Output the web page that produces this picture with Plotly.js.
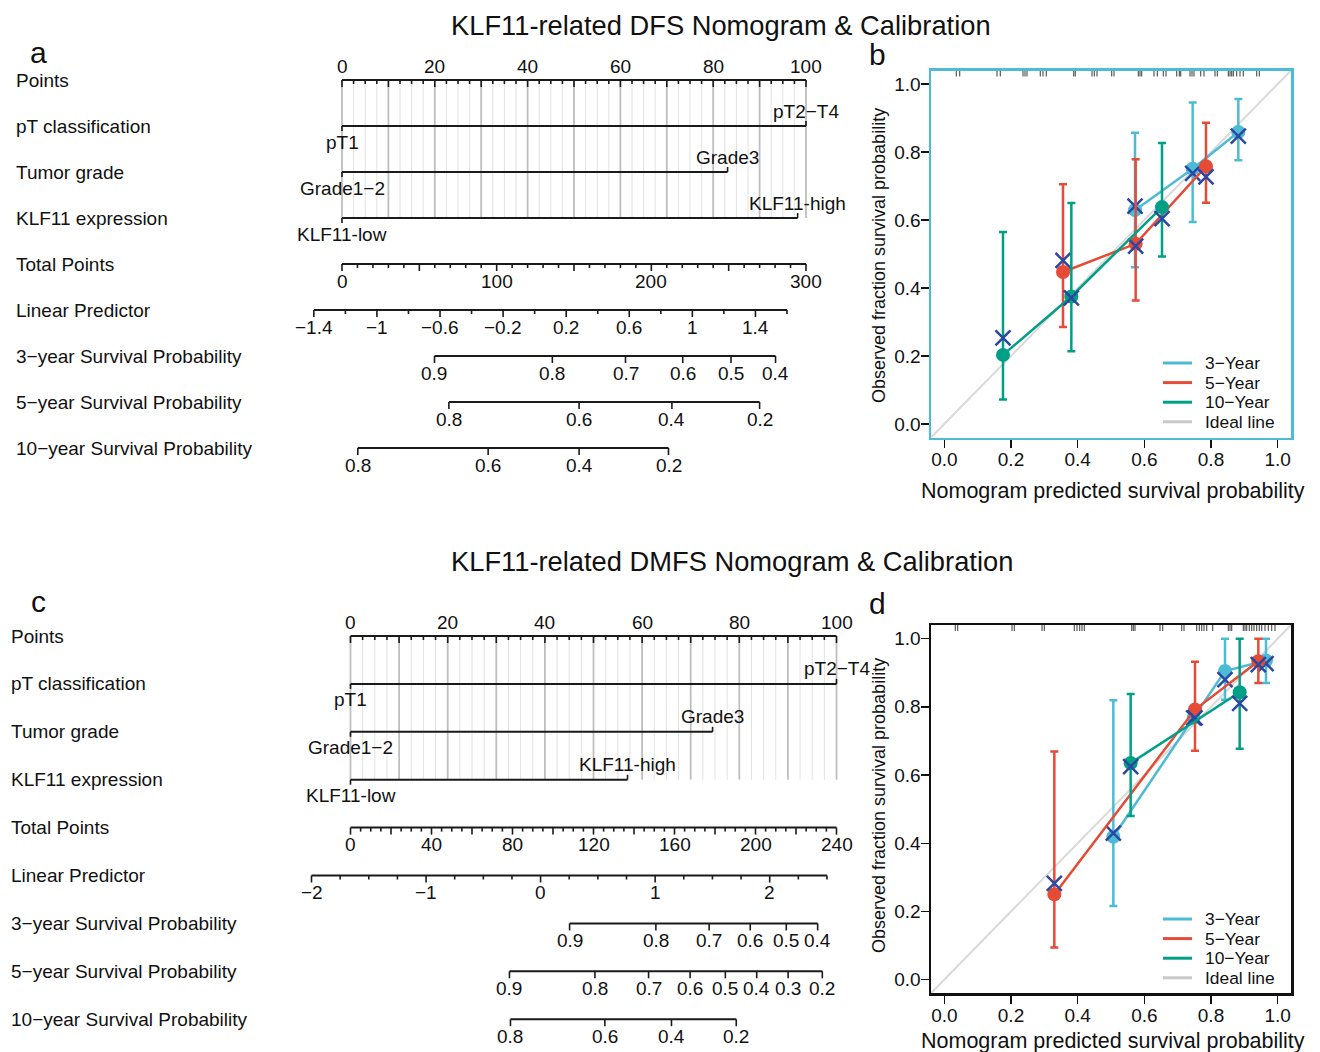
<!DOCTYPE html>
<html><head><meta charset="utf-8">
<script src="https://cdn.plot.ly/plotly-3.0.1.min.js"></script>
<style>html,body{margin:0;padding:0;background:#fff}#chart{width:1320px;height:1052px}</style>
</head><body><div id="chart"></div>
<script>
const W = 1320, H = 1052;
const FONT = '"Liberation Sans", Arial, Helvetica, sans-serif';

// ---------------- DATA: DFS nomogram (a) ----------------
const dfsVariables   = ['pT classification', 'Tumor grade', 'KLF11 expression'];
const dfsLowLevels   = ['pT1', 'Grade1\u22122', 'KLF11-low'];
const dfsHighLevels  = ['pT2\u2212T4', 'Grade3', 'KLF11-high'];
const dfsHighPoints  = [100, 83.1, 98.2];
const dfsPointLabels = [0, 20, 40, 60, 80, 100];
const dfsTotalLabels = [0, 100, 200, 300];
const dfsLpLabels    = [-1.4, -1, -0.6, -0.2, 0.2, 0.6, 1, 1.4];
const dfs3yProb  = [0.9, 0.8, 0.7, 0.6, 0.5, 0.4];
const dfs3yTotal = [59.8, 136.0, 183.3, 220.3, 251.5, 280.3];
const dfs5yProb  = [0.8, 0.6, 0.4, 0.2];
const dfs5yTotal = [69.1, 153.3, 213.3, 270.0];
const dfs10yProb  = [0.8, 0.6, 0.4, 0.2];
const dfs10yTotal = [10.2, 94.5, 153.3, 211.1];

// ---------------- DATA: DMFS nomogram (c) ----------------
const dmfsVariables   = ['pT classification', 'Tumor grade', 'KLF11 expression'];
const dmfsLowLevels   = ['pT1', 'Grade1\u22122', 'KLF11-low'];
const dmfsHighLevels  = ['pT2\u2212T4', 'Grade3', 'KLF11-high'];
const dmfsHighPoints  = [100, 74.5, 57.0];
const dmfsPointLabels = [0, 20, 40, 60, 80, 100];
const dmfsTotalLabels = [0, 40, 80, 120, 160, 200, 240];
const dmfsLpLabels    = [-2, -1, 0, 1, 2];
const dmfs3yProb  = [0.9, 0.8, 0.7, 0.6, 0.5, 0.4];
const dmfs3yTotal = [108.2, 150.8, 177.1, 197.4, 215.2, 230.7];
const dmfs5yProb  = [0.9, 0.8, 0.7, 0.6, 0.5, 0.4, 0.3, 0.2];
const dmfs5yTotal = [78.5, 120.7, 147.2, 167.7, 185.1, 200.6, 216.1, 233.0];
const dmfs10yProb  = [0.8, 0.6, 0.4, 0.2];
const dmfs10yTotal = [79.0, 125.6, 158.5, 190.5];

// ---------------- DATA: DFS calibration (b) ----------------
const dfsCal3yPred = [0.572, 0.745, 0.882];
const dfsCal3yObs  = [0.629, 0.751, 0.859];
const dfsCal3yLow  = [0.461, 0.594, 0.776];
const dfsCal3yHigh = [0.857, 0.946, 0.956];
const dfsCal3yCorr = [0.641, 0.737, 0.847];
const dfsCal5yPred = [0.356, 0.574, 0.785];
const dfsCal5yObs  = [0.447, 0.530, 0.758];
const dfsCal5yLow  = [0.285, 0.363, 0.651];
const dfsCal5yHigh = [0.705, 0.779, 0.886];
const dfsCal5yCorr = [0.481, 0.523, 0.727];
const dfsCal10yPred = [0.176, 0.381, 0.653];
const dfsCal10yObs  = [0.203, 0.375, 0.638];
const dfsCal10yLow  = [0.072, 0.214, 0.493];
const dfsCal10yHigh = [0.565, 0.650, 0.827];
const dfsCal10yCorr = [0.253, 0.371, 0.604];
const dfsRug = [0.036, 0.046, 0.158, 0.168, 0.236, 0.242, 0.248, 0.288, 0.296, 0.306, 0.388, 0.393,
  0.443, 0.450, 0.458, 0.502, 0.509, 0.582, 0.587, 0.592, 0.629, 0.639, 0.657, 0.665, 0.697, 0.705,
  0.709, 0.737, 0.743, 0.749, 0.769, 0.779, 0.812, 0.819, 0.852, 0.857, 0.862, 0.867, 0.877, 0.887,
  0.897, 0.937, 0.945];

// ---------------- DATA: DMFS calibration (d) ----------------
const dmfsCal3yPred = [0.507, 0.748, 0.842, 0.965];
const dmfsCal3yObs  = [0.419, 0.768, 0.905, 0.936];
const dmfsCal3yLow  = [0.216, null, 0.821, 0.870];
const dmfsCal3yHigh = [0.819, null, 1.000, 1.000];
const dmfsCal3yCorr = [0.430, 0.768, 0.880, 0.927];
const dmfsCal5yPred = [0.330, 0.752, 0.942];
const dmfsCal5yObs  = [0.250, 0.792, 0.934];
const dmfsCal5yLow  = [0.094, 0.671, 0.870];
const dmfsCal5yHigh = [0.669, 0.932, 1.000];
const dmfsCal5yCorr = [0.282, 0.768, 0.924];
const dmfsCal10yPred = [0.559, 0.886];
const dmfsCal10yObs  = [0.635, 0.843];
const dmfsCal10yLow  = [0.480, 0.677];
const dmfsCal10yHigh = [0.838, 1.000];
const dmfsCal10yCorr = [0.625, 0.810];
const dmfsRug = [0.033, 0.040, 0.203, 0.210, 0.293, 0.300, 0.390, 0.398, 0.406, 0.413, 0.420,
  0.562, 0.567, 0.572, 0.647, 0.655, 0.712, 0.719, 0.757, 0.765, 0.772, 0.779, 0.787, 0.805,
  0.852, 0.857, 0.862, 0.897, 0.902, 0.907, 0.915, 0.922, 0.929, 0.937, 0.945, 0.952, 0.962,
  0.972, 0.982, 0.992];

const seriesNames = ['3\u2212Year', '5\u2212Year', '10\u2212Year', 'Ideal line'];
const rowTail = ['Total Points', 'Linear Predictor', '3\u2212year Survival Probability',
                 '5\u2212year Survival Probability', '10\u2212year Survival Probability'];

// ---------------- STYLE ----------------
const C3 = '#4DBBD5', C5 = '#E64B35', C10 = '#00A087', CX = '#2B48A0', CIDEAL = '#D9D9D9';
const INK = '#1a1a1a';

const traces = [];
const annotations = [];
const shapes = [];

function fmt(v) { return v < 0 ? '\u2212' + String(Math.abs(v)) : String(v); }

function nomogram(cfg) {
  const xa = cfg.xa, ya = cfg.ya;
  const d = px => px / cfg.pxRow;
  const toPts = tp => tp * 100 / cfg.totalMax;
  const lpToPts = lp => toPts((lp - cfg.lpAtZero) / cfg.lpPerTotal);
  const axisL = {x: [], y: []}, tickL = {x: [], y: []}, gDark = {x: [], y: []}, gLight = {x: [], y: []};
  const seg = (o, x0, y0, x1, y1) => { o.x.push(x0, x1, null); o.y.push(y0, y1, null); };
  const label = (x, y, text, shift) => annotations.push({xref: xa, yref: ya, x, y, text, showarrow: false,
    yshift: shift, xanchor: 'center', yanchor: 'middle', font: {size: 19, family: FONT, color: '#111'}});
  const nVar = cfg.vars.length;

  // grid + points axis
  for (let k = 0; k <= 40; k++) {
    const t = k * 2.5;
    seg(k % 4 === 0 ? gDark : gLight, t, 0, t, nVar);
    seg(tickL, t, 0, t, d(k % 4 === 0 ? 7 : 4));
  }
  seg(axisL, 0, 0, 100, 0);
  cfg.pointLabels.forEach(v => label(v, 0, fmt(v), 14));

  // variables
  cfg.vars.forEach((name, i) => {
    const r = i + 1, hp = cfg.highPoints[i];
    seg(axisL, 0, r, hp, r);
    seg(tickL, 0, r, 0, r + d(5));
    seg(tickL, hp, r, hp, r - d(5));
    label(0, r, cfg.low[i], -16);
    label(hp, r, cfg.high[i], 15);
  });

  // total points
  const rT = nVar + 1;
  seg(axisL, 0, rT, toPts(cfg.totalMax), rT);
  for (let tp = 0; tp <= cfg.totalMax + 1e-9; tp += cfg.totalMinor) {
    const major = Math.abs(tp / cfg.totalMajor - Math.round(tp / cfg.totalMajor)) < 1e-6;
    seg(tickL, toPts(tp), rT, toPts(tp), rT + d(major ? 7 : 4));
  }
  cfg.totalLabels.forEach(v => label(toPts(v), rT, fmt(v), -17));

  // linear predictor
  const rL = nVar + 2;
  seg(axisL, lpToPts(cfg.lpMin), rL, lpToPts(cfg.lpMax), rL);
  const nLp = Math.round((cfg.lpMax - cfg.lpMin) / cfg.lpStep);
  for (let k = 0; k <= nLp; k++) {
    const lp = cfg.lpMin + k * cfg.lpStep;
    const lab = cfg.lpLabels.some(v => Math.abs(v - lp) < 1e-6);
    seg(tickL, lpToPts(lp), rL, lpToPts(lp), rL + d(lab ? 7 : 4));
  }
  cfg.lpLabels.forEach(v => label(lpToPts(v), rL, fmt(v), -17));

  // survival scales
  cfg.surv.forEach((s, j) => {
    const r = nVar + 3 + j;
    const xs = s.total.map(toPts);
    seg(axisL, Math.min(...xs), r, Math.max(...xs), r);
    xs.forEach((x, i) => { seg(tickL, x, r, x, r + d(7)); label(x, r, fmt(s.prob[i]), -17); });
  });

  // row names
  const rows = ['Points'].concat(cfg.vars, rowTail);
  rows.forEach((t, i) => annotations.push({xref: 'paper', yref: ya, x: cfg.labelX / W, y: i, text: t,
    showarrow: false, xanchor: 'left', yanchor: 'middle', font: {size: 19, family: FONT, color: '#111'}}));

  const base = {type: 'scatter', mode: 'lines', xaxis: xa, yaxis: ya, hoverinfo: 'skip', showlegend: false};
  traces.push(Object.assign({}, base, gLight, {line: {color: '#E2E2E2', width: 1}}));
  traces.push(Object.assign({}, base, gDark, {line: {color: '#BEBEBE', width: 1.8}}));
  traces.push(Object.assign({}, base, axisL, {line: {color: INK, width: 2}}));
  traces.push(Object.assign({}, base, tickL, {line: {color: INK, width: 1.6}}));
}

nomogram({xa: 'x', ya: 'y', pxRow: 46, vars: dfsVariables, low: dfsLowLevels, high: dfsHighLevels,
  highPoints: dfsHighPoints, pointLabels: dfsPointLabels, totalLabels: dfsTotalLabels, totalMax: 300,
  totalMinor: 10, totalMajor: 50, lpLabels: dfsLpLabels, lpMin: -1.4, lpMax: 1.6, lpStep: 0.2,
  lpAtZero: -1.2215, lpPerTotal: 0.009807, labelX: 14,
  surv: [{prob: dfs3yProb, total: dfs3yTotal}, {prob: dfs5yProb, total: dfs5yTotal}, {prob: dfs10yProb, total: dfs10yTotal}]});

nomogram({xa: 'x3', ya: 'y3', pxRow: 47.9, vars: dmfsVariables, low: dmfsLowLevels, high: dmfsHighLevels,
  highPoints: dmfsHighPoints, pointLabels: dmfsPointLabels, totalLabels: dmfsTotalLabels, totalMax: 240,
  totalMinor: 5, totalMajor: 20, lpLabels: dmfsLpLabels, lpMin: -2, lpMax: 2.5, lpStep: 0.25,
  lpAtZero: -1.6595, lpPerTotal: 0.017678, labelX: 9,
  surv: [{prob: dmfs3yProb, total: dmfs3yTotal}, {prob: dmfs5yProb, total: dmfs5yTotal}, {prob: dmfs10yProb, total: dmfs10yTotal}]});

// ---------------- calibration ----------------
const CAL_RANGE = [-0.04, 1.04];
function calibration(xa, ya, series, rug, pxPerUnit) {
  traces.push({type: 'scatter', mode: 'lines', x: CAL_RANGE, y: CAL_RANGE, xaxis: xa, yaxis: ya,
    line: {color: CIDEAL, width: 2}, hoverinfo: 'skip', showlegend: false});
  const rx = [], ry = [], top = CAL_RANGE[1], len = 6 / pxPerUnit;
  rug.forEach(v => { rx.push(v, v, null); ry.push(top, top - len, null); });
  traces.push({type: 'scatter', mode: 'lines', x: rx, y: ry, xaxis: xa, yaxis: ya,
    line: {color: 'rgba(20,20,20,0.7)', width: 1.2}, hoverinfo: 'skip', showlegend: false});
  series.forEach(s => {
    traces.push({type: 'scatter', mode: 'lines+markers', x: s.pred, y: s.obs, xaxis: xa, yaxis: ya,
      line: {color: s.color, width: 2.5}, marker: {color: s.color, size: 14},
      error_y: {type: 'data', symmetric: false,
        array: s.high.map((h, i) => h == null ? NaN : h - s.obs[i]),
        arrayminus: s.low.map((l, i) => l == null ? NaN : s.obs[i] - l),
        color: s.color, thickness: 2.5, width: 4},
      cliponaxis: false, hoverinfo: 'skip', showlegend: false});
    traces.push({type: 'scatter', mode: 'markers', x: s.pred, y: s.corr, xaxis: xa, yaxis: ya,
      marker: {symbol: 'x-thin-open', size: 15, color: CX, line: {color: CX, width: 2.5}},
      cliponaxis: false, hoverinfo: 'skip', showlegend: false});
  });
}
calibration('x2', 'y2', [
  {pred: dfsCal3yPred, obs: dfsCal3yObs, low: dfsCal3yLow, high: dfsCal3yHigh, corr: dfsCal3yCorr, color: C3},
  {pred: dfsCal5yPred, obs: dfsCal5yObs, low: dfsCal5yLow, high: dfsCal5yHigh, corr: dfsCal5yCorr, color: C5},
  {pred: dfsCal10yPred, obs: dfsCal10yObs, low: dfsCal10yLow, high: dfsCal10yHigh, corr: dfsCal10yCorr, color: C10}
], dfsRug, 340);
calibration('x4', 'y4', [
  {pred: dmfsCal3yPred, obs: dmfsCal3yObs, low: dmfsCal3yLow, high: dmfsCal3yHigh, corr: dmfsCal3yCorr, color: C3},
  {pred: dmfsCal5yPred, obs: dmfsCal5yObs, low: dmfsCal5yLow, high: dmfsCal5yHigh, corr: dmfsCal5yCorr, color: C5},
  {pred: dmfsCal10yPred, obs: dmfsCal10yObs, low: dmfsCal10yLow, high: dmfsCal10yHigh, corr: dmfsCal10yCorr, color: C10}
], dmfsRug, 340);

// legends (manual, R style)
function legend(centerPx) {
  const cols = [C3, C5, C10, '#C8C8C8'];
  const step = 19.6;
  seriesNames.forEach((name, i) => {
    const y = 1 - (centerPx + (i - 1.5) * step) / H;
    shapes.push({type: 'line', xref: 'paper', yref: 'paper', x0: 1163 / W, x1: 1192 / W, y0: y, y1: y,
      line: {color: cols[i], width: 3}});
    annotations.push({xref: 'paper', yref: 'paper', x: 1203 / W, y, text: name, showarrow: false,
      xanchor: 'left', yanchor: 'middle', font: {size: 17.4, family: FONT, color: '#111'}});
  });
}
legend(392.4);
legend(948.4);

// titles, panel letters, axis titles
function txt(xpx, ypx, text, size, extra) {
  annotations.push(Object.assign({xref: 'paper', yref: 'paper', x: xpx / W, y: 1 - ypx / H, text,
    showarrow: false, xanchor: 'center', yanchor: 'middle', font: {size, family: FONT, color: '#111'}}, extra || {}));
}
txt(449, 25, 'KLF11-related DFS Nomogram &amp; Calibration', 27.3, {xanchor: 'left'});
txt(449, 561, 'KLF11-related DMFS Nomogram &amp; Calibration', 27.3, {xanchor: 'left'});
txt(38, 52.5, 'a', 30); txt(877, 55, 'b', 30);
txt(38, 601, 'c', 30); txt(877, 603, 'd', 30);
txt(1113, 491, 'Nomogram predicted survival probability', 21.5);
txt(1113, 1041, 'Nomogram predicted survival probability', 21.5);
txt(879, 256, 'Observed fraction survival probability', 18, {textangle: -90});
txt(879, 806, 'Observed fraction survival probability', 18, {textangle: -90});

// ---------------- axes ----------------
const hidden = {visible: false, showgrid: false, zeroline: false, fixedrange: true};
function nomoX(x0, pxPt) { return Object.assign({domain: [0, 1], range: [-x0 / pxPt, (W - x0) / pxPt]}, hidden); }
function nomoY(y0, pxRow) { return Object.assign({domain: [0, 1], range: [(H - y0) / pxRow, -y0 / pxRow]}, hidden); }
function calAxis(domain, anchor, lineColor, standoff) {
  return {domain, anchor, range: CAL_RANGE, showline: true, mirror: true, linecolor: lineColor, linewidth: 2.5,
    ticks: 'outside', ticklen: 8, tickwidth: 1.5, tickcolor: '#111', tickvals: [0, 0.2, 0.4, 0.6, 0.8, 1],
    tickformat: '.1f', showgrid: false, zeroline: false, fixedrange: true, ticklabelstandoff: standoff,
    tickfont: {size: 19, family: FONT, color: '#111'}};
}

const layout = {
  width: W, height: H, margin: {l: 0, r: 0, t: 0, b: 0}, paper_bgcolor: '#fff', plot_bgcolor: 'rgba(0,0,0,0)',
  showlegend: false, font: {family: FONT, color: '#111'},
  xaxis: nomoX(342, 4.64), yaxis: nomoY(80, 46),
  xaxis3: Object.assign(nomoX(350.5, 4.86), {anchor: 'y3'}), yaxis3: Object.assign(nomoY(636, 47.9), {anchor: 'x3'}),
  xaxis2: calAxis([931 / W, 1291 / W], 'y2', C3, -5),
  yaxis2: calAxis([1 - 437.5 / H, 1 - 70.5 / H], 'x2', C3, -4),
  xaxis4: calAxis([931 / W, 1291 / W], 'y4', '#111', -5),
  yaxis4: calAxis([1 - 993.3 / H, 1 - 625 / H], 'x4', '#111', -4),
  annotations, shapes
};

Plotly.newPlot('chart', traces, layout, {displayModeBar: false, staticPlot: true});
</script></body></html>
